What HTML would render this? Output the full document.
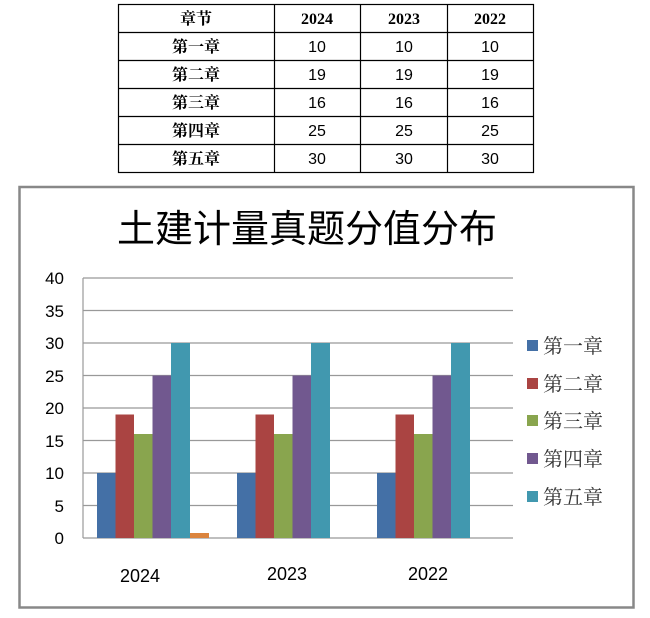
<!DOCTYPE html>
<html><head><meta charset="utf-8"><style>
body{margin:0;background:#fff;width:650px;height:618px;overflow:hidden}
</style></head><body>
<svg width="650" height="618" xmlns="http://www.w3.org/2000/svg" style="position:absolute;left:0;top:0">
<g stroke="#000" stroke-width="1.2" fill="none">
<rect x="118.5" y="4.5" width="415" height="168"/>
<line x1="118" y1="32.5" x2="534" y2="32.5"/><line x1="118" y1="60.5" x2="534" y2="60.5"/>
<line x1="118" y1="88.5" x2="534" y2="88.5"/><line x1="118" y1="116.5" x2="534" y2="116.5"/>
<line x1="118" y1="144.5" x2="534" y2="144.5"/>
<line x1="274.5" y1="4" x2="274.5" y2="173"/><line x1="360.5" y1="4" x2="360.5" y2="173"/><line x1="447.5" y1="4" x2="447.5" y2="173"/>
</g>
<g font-family="Liberation Serif,Noto Serif CJK SC,serif" font-weight="bold" font-size="16" text-anchor="middle">
<text x="196" y="24">章节</text><text x="317" y="24">2024</text><text x="404" y="24">2023</text><text x="490" y="24">2022</text>
<text x="196" y="52">第一章</text><text x="196" y="80">第二章</text><text x="196" y="108">第三章</text><text x="196" y="136">第四章</text><text x="196" y="164">第五章</text>
</g>
<g font-family="Liberation Sans,sans-serif" font-size="16" text-anchor="middle">
<text x="317" y="52">10</text><text x="404" y="52">10</text><text x="490" y="52">10</text>
<text x="317" y="80">19</text><text x="404" y="80">19</text><text x="490" y="80">19</text>
<text x="317" y="108">16</text><text x="404" y="108">16</text><text x="490" y="108">16</text>
<text x="317" y="136">25</text><text x="404" y="136">25</text><text x="490" y="136">25</text>
<text x="317" y="164">30</text><text x="404" y="164">30</text><text x="490" y="164">30</text>
</g>
<rect x="19.5" y="187" width="614" height="420.5" fill="none" stroke="#888" stroke-width="2.5"/>
<text x="307" y="242" font-family="Liberation Sans,Noto Sans CJK SC,sans-serif" font-size="38" text-anchor="middle">土建计量真题分值分布</text>
<g stroke="#999" stroke-width="1.2">
<line x1="83" y1="278" x2="513" y2="278"/><line x1="83" y1="310.5" x2="513" y2="310.5"/>
<line x1="83" y1="343" x2="513" y2="343"/><line x1="83" y1="375.5" x2="513" y2="375.5"/>
<line x1="83" y1="408" x2="513" y2="408"/><line x1="83" y1="440.5" x2="513" y2="440.5"/>
<line x1="83" y1="473" x2="513" y2="473"/><line x1="83" y1="505.5" x2="513" y2="505.5"/>
<line x1="83" y1="538" x2="513" y2="538"/><line x1="83" y1="278" x2="83" y2="538"/>
</g>
<g font-family="Liberation Sans,sans-serif" font-size="17" text-anchor="end">
<text x="64" y="284">40</text><text x="64" y="317">35</text><text x="64" y="349">30</text><text x="64" y="382">25</text>
<text x="64" y="414">20</text><text x="64" y="447">15</text><text x="64" y="479">10</text><text x="64" y="512">5</text><text x="64" y="544">0</text>
</g>
<g>
<rect x="97" y="473" width="18.5" height="65" fill="#4470a6"/>
<rect x="115.5" y="414.5" width="18.5" height="123.5" fill="#aa4442"/>
<rect x="134" y="434" width="18.5" height="104" fill="#89a54e"/>
<rect x="152.5" y="375.5" width="18.5" height="162.5" fill="#71588f"/>
<rect x="171" y="343" width="19" height="195" fill="#4198af"/>
<rect x="190" y="533" width="19" height="5" fill="#db843d"/>
<rect x="237" y="473" width="18.5" height="65" fill="#4470a6"/>
<rect x="255.5" y="414.5" width="18.5" height="123.5" fill="#aa4442"/>
<rect x="274" y="434" width="18.5" height="104" fill="#89a54e"/>
<rect x="292.5" y="375.5" width="18.5" height="162.5" fill="#71588f"/>
<rect x="311" y="343" width="19" height="195" fill="#4198af"/>
<rect x="377" y="473" width="18.5" height="65" fill="#4470a6"/>
<rect x="395.5" y="414.5" width="18.5" height="123.5" fill="#aa4442"/>
<rect x="414" y="434" width="18.5" height="104" fill="#89a54e"/>
<rect x="432.5" y="375.5" width="18.5" height="162.5" fill="#71588f"/>
<rect x="451" y="343" width="19" height="195" fill="#4198af"/>
</g>
<g font-family="Liberation Sans,sans-serif" font-size="18" text-anchor="middle">
<text x="140" y="582">2024</text><text x="287" y="580">2023</text><text x="428" y="580">2022</text>
</g>
<g>
<rect x="527" y="340" width="11" height="11" fill="#4470a6"/>
<rect x="527" y="378" width="11" height="11" fill="#aa4442"/>
<rect x="527" y="415" width="11" height="11" fill="#89a54e"/>
<rect x="527" y="453" width="11" height="11" fill="#71588f"/>
<rect x="527" y="491" width="11" height="11" fill="#4198af"/>
</g>
<g font-family="Noto Serif CJK SC,serif" font-size="20" fill="#333">
<text x="543" y="353">第一章</text><text x="543" y="391">第二章</text><text x="543" y="428">第三章</text><text x="543" y="466">第四章</text><text x="543" y="504">第五章</text>
</g>
</svg>
</body></html>
